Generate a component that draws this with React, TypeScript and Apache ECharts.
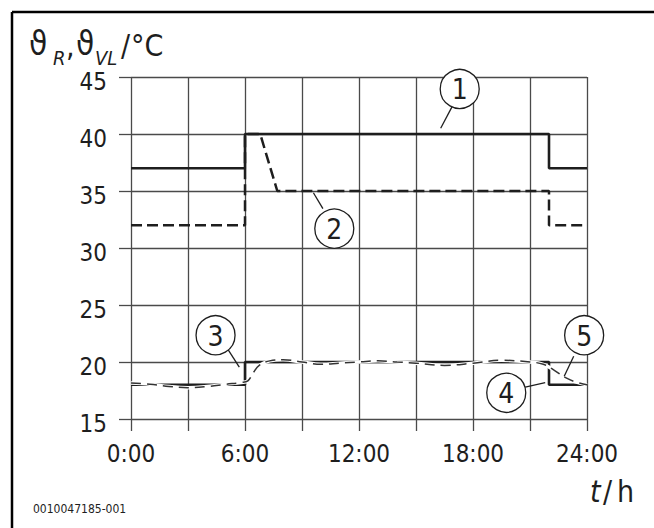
import React, { useEffect, useRef } from "react";
import * as echarts from "echarts";

// ---- Data ----
const xTickLabels = ["0:00", "6:00", "12:00", "18:00", "24:00"];
const yMin = 15;
const yMax = 45;
const yStep = 5;
const xMin = 0;
const xMax = 24;
const xStep = 3;

// (1) flow temperature setpoint
const flowSetHours = [0, 6, 6, 22, 22, 24];
const flowSetValues = [37, 37, 40, 40, 37, 37];

// (2) flow temperature actual
const flowActHours = [0, 6, 6, 6.8, 7.7, 22, 22, 24];
const flowActValues = [32, 32, 40, 40, 35, 35, 32, 32];

// (4) room temperature setpoint
const roomSetHours = [0, 6, 6, 22, 22, 24];
const roomSetValues = [18, 18, 20, 20, 18, 18];

// (3)/(5) room temperature actual
const roomActHours = [0, 1, 2, 3, 4, 5, 5.8, 6.15, 6.45, 6.75, 7.3, 8, 9, 10, 11, 12, 13, 14, 15, 16.5, 18, 19.5, 21, 21.7, 22.3, 22.9, 23.4, 24];
const roomActValues = [18.15, 18.05, 17.85, 17.75, 17.85, 18.05, 18.2, 18.35, 19.1, 19.7, 20.1, 20.2, 20.0, 19.8, 19.9, 20.0, 20.1, 20.0, 19.9, 19.7, 19.9, 20.15, 20.0, 19.8, 19.25, 18.6, 18.25, 18.0];

// callouts (data units)
const calloutLabels = ["1", "2", "3", "4", "5"];
const calloutH = [17.3, 10.7, 4.45, 19.75, 23.85];
const calloutV = [43.95, 31.7, 22.35, 17.3, 22.35];
const leaderStartH = [16.9, 10.1, 5.1, 20.75, 23.3];
const leaderStartV = [42.4, 33.45, 21.1, 17.8, 20.5];
const leaderEndH = [16.3, 9.6, 5.7, 21.8, 22.8];
const leaderEndV = [40.5, 34.85, 19.55, 18.2, 18.75];

const FONT = "'DejaVu Sans Condensed', 'DejaVu Sans', sans-serif";
const INK = "#1e1e1e";
const GRID = "#4a4a4a";

const zip = (a: number[], b: number[]) => a.map((v, i) => [v, b[i]]);

export default function App() {
  const ref = useRef<HTMLDivElement>(null);
  useEffect(() => {
    if (!ref.current) return;
    document.body.style.margin = "0";
    document.body.style.overflow = "hidden";
    const chart = echarts.init(ref.current, null, { renderer: "svg" });
    const calloutData = calloutLabels.map((_, i) => [
      calloutH[i], calloutV[i], leaderStartH[i], leaderStartV[i], leaderEndH[i], leaderEndV[i], i,
    ]);
    chart.setOption({
      animation: false,
      backgroundColor: "#ffffff",
      grid: { left: 131, right: 67, top: 77, bottom: 109 },
      xAxis: {
        type: "value",
        min: xMin,
        max: xMax,
        interval: xStep,
        axisLine: { show: false },
        axisTick: { show: true, length: 12, lineStyle: { color: GRID, width: 1.3 } },
        splitLine: { show: true, lineStyle: { color: GRID, width: 1.3 } },
        axisLabel: {
          margin: 23,
          fontSize: 24,
          fontFamily: FONT,
          color: INK,
          formatter: (v: number) => (v % 6 === 0 ? xTickLabels[v / 6] : ""),
        },
      },
      yAxis: {
        type: "value",
        min: yMin,
        max: yMax,
        interval: yStep,
        axisLine: { show: false },
        axisTick: { show: true, length: 12, lineStyle: { color: GRID, width: 1.3 } },
        splitLine: { show: true, lineStyle: { color: GRID, width: 1.3 } },
        axisLabel: {
          margin: 24,
          fontSize: 24,
          fontFamily: FONT,
          color: INK,
          verticalAlign: "top",
          lineHeight: 9,
        },
      },
      series: [
        {
          type: "line",
          data: zip(flowSetHours, flowSetValues),
          showSymbol: false,
          lineStyle: { color: INK, width: 2.6 },
          z: 3,
        },
        {
          type: "line",
          data: zip(flowActHours, flowActValues),
          showSymbol: false,
          lineStyle: { color: INK, width: 2.5, type: [11, 5] },
          z: 4,
        },
        {
          type: "line",
          data: zip(roomSetHours, roomSetValues),
          showSymbol: false,
          lineStyle: { color: INK, width: 2.6 },
          z: 3,
        },
        {
          type: "line",
          data: zip(roomActHours, roomActValues),
          showSymbol: false,
          smooth: 0.4,
          lineStyle: { color: "#ffffff", width: 3.5 },
          z: 4,
        },
        {
          type: "line",
          data: zip(roomActHours, roomActValues),
          showSymbol: false,
          smooth: 0.4,
          lineStyle: { color: "#333333", width: 1.5, type: [10, 6] },
          z: 5,
        },
        {
          type: "custom",
          coordinateSystem: "cartesian2d",
          clip: false,
          z: 10,
          data: calloutData,
          encode: { x: [0, 2, 4], y: [1, 3, 5] },
          renderItem: (_p: any, api: any) => {
            const c = api.coord([api.value(0), api.value(1)]);
            const a = api.coord([api.value(2), api.value(3)]);
            const b = api.coord([api.value(4), api.value(5)]);
            const idx = api.value(6);
            return {
              type: "group",
              children: [
                {
                  type: "line",
                  shape: { x1: a[0], y1: a[1], x2: b[0], y2: b[1] },
                  style: { stroke: INK, lineWidth: 1.3 },
                },
                {
                  type: "circle",
                  shape: { cx: c[0], cy: c[1], r: 19.5 },
                  style: { fill: "#ffffff", stroke: INK, lineWidth: 1.3 },
                },
                {
                  type: "text",
                  x: c[0],
                  y: c[1] + 1,
                  style: {
                    text: calloutLabels[idx],
                    fontSize: 28,
                    fontFamily: FONT,
                    fill: INK,
                    align: "center",
                    verticalAlign: "middle",
                  },
                },
              ],
            };
          },
        },
      ],
      graphic: [
        { type: "line", shape: { x1: 12, y1: 12, x2: 654, y2: 12 }, style: { stroke: "#000", lineWidth: 2.5 } },
        { type: "line", shape: { x1: 12, y1: 12, x2: 12, y2: 528 }, style: { stroke: "#000", lineWidth: 2.5 } },
        { type: "text", left: 29, top: 27, style: { text: "ϑ", fontSize: 33, fontFamily: FONT, fill: INK } },
        { type: "text", left: 53, top: 48, style: { text: "R", fontSize: 20, fontStyle: "italic", fontFamily: FONT, fill: INK } },
        { type: "text", left: 66, top: 30, style: { text: ",", fontSize: 30, fontFamily: FONT, fill: INK } },
        { type: "text", left: 76, top: 27, style: { text: "ϑ", fontSize: 33, fontFamily: FONT, fill: INK } },
        { type: "text", left: 95, top: 48, style: { text: "VL", fontSize: 20, fontStyle: "italic", fontFamily: FONT, fill: INK } },
        { type: "text", left: 121, top: 30, style: { text: "/", fontSize: 30, fontFamily: FONT, fill: INK } },
        { type: "text", left: 131, top: 30, style: { text: "°C", fontSize: 30, fontFamily: FONT, fill: INK } },
        { type: "text", left: 590, top: 476, style: { text: "t", fontSize: 30, fontStyle: "italic", fontFamily: FONT, fill: INK } },
        { type: "text", left: 603, top: 476, style: { text: "/", fontSize: 30, fontFamily: FONT, fill: INK } },
        { type: "text", left: 617, top: 476, style: { text: "h", fontSize: 30, fontFamily: FONT, fill: INK } },
        { type: "text", left: 33, top: 503, style: { text: "0010047185-001", fontSize: 12, fontFamily: FONT, fill: INK } },
      ],
    });
    return () => chart.dispose();
  }, []);
  return (
    <div
      ref={ref}
      style={{ position: "absolute", left: 0, top: 0, width: 654, height: 528, background: "#fff" }}
    />
  );
}
